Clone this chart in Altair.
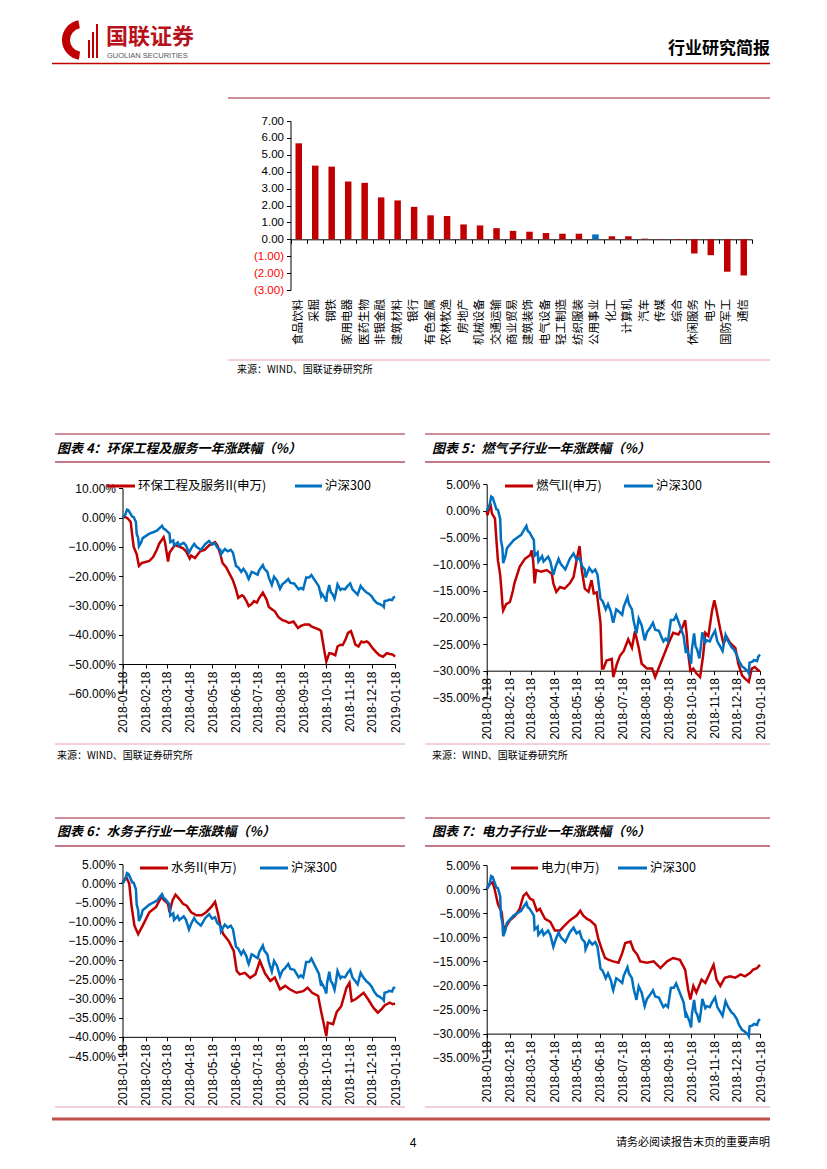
import altair as alt
import pandas as pd

W, H = 811, 1153
M = 8


def px(v):
    return v - M


FONT_CJK = "Noto Sans CJK SC"
FONT_NUM = "Liberation Sans"
RED = "#C00000"
BLUE = "#0070C0"

# ---------------- data ----------------
bar_cats = ["食品饮料", "采掘", "钢铁", "家用电器", "医药生物", "非银金融", "建筑材料", "银行",
            "有色金属", "农林牧渔", "房地产", "机械设备", "交通运输", "商业贸易", "建筑装饰", "电气设备",
            "轻工制造", "纺织服装", "公用事业", "化工", "计算机", "汽车", "传媒", "综合",
            "休闲服务", "电子", "国防军工", "通信"]
bar_vals = [5.68, 4.36, 4.30, 3.42, 3.34, 2.48, 2.30, 1.92, 1.42, 1.38, 0.88, 0.82, 0.66, 0.50,
            0.45, 0.37, 0.33, 0.33, 0.29, 0.18, 0.18, 0.04, 0.02, -0.04, -0.84, -0.94, -1.92, -2.14]
bar_highlight = ["公用事业"]

csi300 = [("2018/01/18", 0.0), ("2018/01/22", 1.2), ("2018/01/24", 2.7), ("2018/01/26", 2.5),
          ("2018/01/29", 1.2), ("2018/01/31", 0.3), ("2018/02/02", 0.2), ("2018/02/05", -1.5),
          ("2018/02/06", -5.5), ("2018/02/08", -7.0), ("2018/02/09", -9.8), ("2018/02/12", -8.5),
          ("2018/02/14", -7.0), ("2018/02/23", -5.5), ("2018/02/28", -5.0), ("2018/03/05", -4.5),
          ("2018/03/09", -3.5), ("2018/03/12", -2.8), ("2018/03/14", -3.8), ("2018/03/16", -4.0),
          ("2018/03/20", -5.0), ("2018/03/22", -5.5), ("2018/03/23", -8.4), ("2018/03/27", -7.8),
          ("2018/03/28", -9.5), ("2018/04/02", -8.5), ("2018/04/04", -9.5), ("2018/04/10", -8.6),
          ("2018/04/13", -9.5), ("2018/04/17", -12.0), ("2018/04/20", -10.5), ("2018/04/24", -9.0),
          ("2018/04/27", -10.0), ("2018/05/03", -11.0), ("2018/05/09", -9.0), ("2018/05/14", -8.0),
          ("2018/05/18", -9.2), ("2018/05/22", -8.8), ("2018/05/25", -10.3), ("2018/05/29", -11.0),
          ("2018/05/30", -12.5), ("2018/06/04", -10.7), ("2018/06/08", -11.5), ("2018/06/12", -11.0),
          ("2018/06/15", -12.0), ("2018/06/19", -16.5), ("2018/06/22", -17.0), ("2018/06/26", -18.5),
          ("2018/06/29", -17.5), ("2018/07/03", -19.0), ("2018/07/05", -20.5), ("2018/07/06", -21.0),
          ("2018/07/10", -18.5), ("2018/07/12", -18.7), ("2018/07/18", -19.5), ("2018/07/20", -18.0),
          ("2018/07/25", -16.2), ("2018/07/27", -17.5), ("2018/07/31", -18.5), ("2018/08/02", -20.5),
          ("2018/08/06", -23.0), ("2018/08/09", -20.2), ("2018/08/13", -21.5), ("2018/08/17", -24.3),
          ("2018/08/20", -22.8), ("2018/08/24", -22.0), ("2018/08/28", -21.0), ("2018/08/31", -22.3),
          ("2018/09/05", -22.5), ("2018/09/07", -23.2), ("2018/09/11", -24.5), ("2018/09/14", -24.0),
          ("2018/09/17", -24.5), ("2018/09/19", -22.5), ("2018/09/21", -20.5), ("2018/09/25", -20.5),
          ("2018/09/28", -19.6), ("2018/10/08", -23.5), ("2018/10/11", -26.7), ("2018/10/12", -26.0),
          ("2018/10/16", -27.5), ("2018/10/18", -28.7), ("2018/10/19", -26.0), ("2018/10/22", -23.0),
          ("2018/10/24", -25.5), ("2018/10/26", -26.0), ("2018/10/29", -27.7), ("2018/10/31", -25.5),
          ("2018/11/02", -22.8), ("2018/11/06", -24.7), ("2018/11/08", -24.3), ("2018/11/12", -24.5),
          ("2018/11/15", -23.5), ("2018/11/19", -22.5), ("2018/11/22", -24.5), ("2018/11/26", -25.5),
          ("2018/11/29", -26.3), ("2018/12/03", -23.3), ("2018/12/05", -24.0), ("2018/12/07", -24.6),
          ("2018/12/11", -25.6), ("2018/12/14", -26.0), ("2018/12/18", -27.0), ("2018/12/21", -28.2),
          ("2018/12/25", -29.2), ("2018/12/28", -29.5), ("2019/01/02", -30.2), ("2019/01/03", -30.5),
          ("2019/01/04", -28.5), ("2019/01/08", -28.3), ("2019/01/10", -28.0), ("2019/01/14", -28.2),
          ("2019/01/16", -27.3), ("2019/01/18", -27.0)]

huanbao = [("2018/01/18", 0.0), ("2018/01/22", 0.2), ("2018/01/25", -0.3), ("2018/01/29", -1.5),
           ("2018/01/31", -6.0), ("2018/02/02", -10.0), ("2018/02/06", -12.5), ("2018/02/09", -16.5),
           ("2018/02/13", -15.5), ("2018/02/23", -14.8), ("2018/02/28", -13.5), ("2018/03/05", -11.0),
           ("2018/03/08", -9.0), ("2018/03/12", -7.5), ("2018/03/14", -6.7), ("2018/03/16", -8.5),
           ("2018/03/20", -15.0), ("2018/03/22", -12.0), ("2018/03/26", -10.5), ("2018/03/29", -9.5),
           ("2018/04/03", -9.8), ("2018/04/09", -10.5), ("2018/04/13", -11.5), ("2018/04/18", -14.0),
           ("2018/04/20", -13.0), ("2018/04/25", -13.8), ("2018/05/02", -11.5), ("2018/05/08", -11.0),
           ("2018/05/14", -9.5), ("2018/05/18", -9.0), ("2018/05/22", -8.4), ("2018/05/25", -9.5),
           ("2018/05/29", -12.5), ("2018/06/01", -15.5), ("2018/06/06", -17.0), ("2018/06/12", -20.0),
           ("2018/06/15", -21.5), ("2018/06/19", -24.5), ("2018/06/22", -27.4), ("2018/06/27", -26.5),
           ("2018/06/29", -26.8), ("2018/07/03", -28.5), ("2018/07/06", -30.2), ("2018/07/10", -29.5),
           ("2018/07/13", -28.5), ("2018/07/17", -29.0), ("2018/07/20", -27.5), ("2018/07/25", -25.6),
           ("2018/07/30", -28.0), ("2018/08/02", -30.5), ("2018/08/07", -31.5), ("2018/08/10", -32.0),
           ("2018/08/15", -34.0), ("2018/08/20", -35.0), ("2018/08/24", -35.3), ("2018/08/29", -36.0),
           ("2018/09/04", -35.5), ("2018/09/10", -37.7), ("2018/09/14", -37.0), ("2018/09/19", -36.5),
           ("2018/09/25", -36.5), ("2018/09/28", -37.2), ("2018/10/09", -38.3), ("2018/10/11", -38.8),
           ("2018/10/15", -45.0), ("2018/10/18", -49.2), ("2018/10/22", -46.3), ("2018/10/26", -46.5),
           ("2018/10/30", -47.0), ("2018/11/02", -44.0), ("2018/11/06", -43.4), ("2018/11/09", -43.5),
           ("2018/11/13", -41.5), ("2018/11/16", -39.4), ("2018/11/20", -38.8), ("2018/11/23", -41.0),
           ("2018/11/26", -43.4), ("2018/11/30", -44.0), ("2018/12/04", -42.3), ("2018/12/07", -42.6),
           ("2018/12/11", -42.3), ("2018/12/14", -42.8), ("2018/12/19", -44.6), ("2018/12/24", -46.0),
           ("2018/12/28", -47.0), ("2019/01/02", -47.5), ("2019/01/07", -46.3), ("2019/01/11", -46.6),
           ("2019/01/15", -46.8), ("2019/01/18", -47.5)]

ranqi = [("2018/01/18", 0.0), ("2018/01/19", -0.8), ("2018/01/23", 1.4), ("2018/01/25", -0.5),
         ("2018/01/29", -1.4), ("2018/01/31", -5.5), ("2018/02/02", -9.3), ("2018/02/05", -12.0),
         ("2018/02/07", -15.5), ("2018/02/08", -17.5), ("2018/02/09", -18.7), ("2018/02/13", -17.5),
         ("2018/02/18", -17.1), ("2018/02/22", -15.0), ("2018/02/24", -13.6), ("2018/03/03", -10.5),
         ("2018/03/10", -9.0), ("2018/03/17", -8.3), ("2018/03/19", -7.4), ("2018/03/21", -9.3),
         ("2018/03/23", -13.6), ("2018/03/25", -11.1), ("2018/04/01", -11.4), ("2018/04/08", -11.1),
         ("2018/04/15", -11.8), ("2018/04/17", -13.6), ("2018/04/21", -15.2), ("2018/04/26", -14.3),
         ("2018/05/02", -14.6), ("2018/05/09", -13.6), ("2018/05/14", -12.4), ("2018/05/18", -9.3),
         ("2018/05/22", -6.6), ("2018/05/25", -11.1), ("2018/05/29", -14.6), ("2018/06/03", -15.2),
         ("2018/06/07", -13.0), ("2018/06/10", -15.5), ("2018/06/14", -15.3), ("2018/06/19", -21.0),
         ("2018/06/21", -29.6), ("2018/06/23", -29.6), ("2018/06/27", -28.1), ("2018/07/04", -27.8),
         ("2018/07/06", -31.2), ("2018/07/11", -28.7), ("2018/07/15", -27.2), ("2018/07/20", -26.3),
         ("2018/07/26", -24.1), ("2018/07/31", -25.7), ("2018/08/04", -22.6), ("2018/08/09", -25.7),
         ("2018/08/13", -28.7), ("2018/08/20", -29.6), ("2018/08/27", -29.6), ("2018/08/31", -31.2),
         ("2018/09/07", -28.7), ("2018/09/13", -26.6), ("2018/09/18", -24.8), ("2018/09/24", -22.9),
         ("2018/10/01", -23.2), ("2018/10/06", -22.0), ("2018/10/10", -20.5), ("2018/10/12", -23.0),
         ("2018/10/14", -26.6), ("2018/10/17", -30.0), ("2018/10/21", -29.6), ("2018/10/25", -30.5),
         ("2018/10/30", -31.2), ("2018/11/03", -27.2), ("2018/11/06", -22.9), ("2018/11/10", -23.5),
         ("2018/11/15", -18.7), ("2018/11/18", -16.8), ("2018/11/21", -18.7), ("2018/11/26", -22.3),
         ("2018/11/30", -24.8), ("2018/12/05", -23.8), ("2018/12/09", -24.8), ("2018/12/16", -25.7),
         ("2018/12/20", -28.7), ("2018/12/25", -30.9), ("2018/12/29", -31.5), ("2019/01/03", -32.1),
         ("2019/01/07", -29.6), ("2019/01/11", -29.3), ("2019/01/16", -30.0), ("2019/01/18", -30.0)]

shuiwu = [("2018/01/18", 0.0), ("2018/01/23", 1.7), ("2018/01/27", 0.0), ("2018/01/30", -5.7),
          ("2018/02/03", -11.0), ("2018/02/08", -13.2), ("2018/02/14", -11.0), ("2018/02/23", -7.5),
          ("2018/03/04", -6.1), ("2018/03/11", -3.5), ("2018/03/15", -4.4), ("2018/03/20", -5.3),
          ("2018/03/22", -7.5), ("2018/03/26", -4.4), ("2018/03/30", -2.9), ("2018/04/04", -4.0),
          ("2018/04/09", -5.3), ("2018/04/14", -5.8), ("2018/04/20", -7.5), ("2018/04/27", -8.3),
          ("2018/05/04", -8.3), ("2018/05/10", -7.5), ("2018/05/17", -6.1), ("2018/05/22", -4.8),
          ("2018/05/26", -7.9), ("2018/05/29", -11.0), ("2018/06/02", -13.2), ("2018/06/09", -14.9),
          ("2018/06/16", -17.6), ("2018/06/20", -22.8), ("2018/06/24", -23.7), ("2018/07/01", -23.3),
          ("2018/07/08", -24.6), ("2018/07/15", -23.7), ("2018/07/21", -20.2), ("2018/07/28", -23.5),
          ("2018/08/04", -25.4), ("2018/08/10", -24.5), ("2018/08/17", -27.6), ("2018/08/24", -26.7),
          ("2018/08/30", -27.6), ("2018/09/08", -28.5), ("2018/09/17", -28.1), ("2018/09/23", -27.2),
          ("2018/09/29", -28.5), ("2018/10/07", -29.3), ("2018/10/11", -33.3), ("2018/10/18", -39.8),
          ("2018/10/20", -36.3), ("2018/10/27", -36.7), ("2018/11/01", -33.5), ("2018/11/07", -32.0),
          ("2018/11/14", -27.2), ("2018/11/18", -25.9), ("2018/11/21", -30.7), ("2018/11/26", -30.2),
          ("2018/12/02", -29.3), ("2018/12/07", -28.5), ("2018/12/13", -30.2), ("2018/12/20", -32.4),
          ("2018/12/26", -33.7), ("2018/12/31", -32.8), ("2019/01/04", -31.8), ("2019/01/11", -31.1),
          ("2019/01/15", -31.5), ("2019/01/18", -31.3)]

dianli = [("2018/01/18", 0.0), ("2018/01/22", 1.0), ("2018/01/26", 1.4), ("2018/01/29", -0.3),
          ("2018/02/02", -3.1), ("2018/02/07", -4.8), ("2018/02/09", -7.5), ("2018/02/11", -8.2),
          ("2018/02/18", -6.5), ("2018/02/25", -5.5), ("2018/03/03", -4.1), ("2018/03/08", -1.4),
          ("2018/03/12", -0.8), ("2018/03/17", -2.0), ("2018/03/21", -2.3), ("2018/03/26", -4.5),
          ("2018/03/30", -4.1), ("2018/04/06", -6.2), ("2018/04/13", -6.8), ("2018/04/19", -8.6),
          ("2018/04/26", -8.6), ("2018/04/30", -7.9), ("2018/05/09", -6.5), ("2018/05/18", -5.5),
          ("2018/05/23", -4.5), ("2018/05/27", -5.5), ("2018/06/01", -6.2), ("2018/06/05", -6.5),
          ("2018/06/12", -7.5), ("2018/06/16", -10.3), ("2018/06/21", -12.6), ("2018/06/25", -14.3),
          ("2018/06/30", -14.7), ("2018/07/06", -15.0), ("2018/07/13", -15.3), ("2018/07/18", -13.3),
          ("2018/07/22", -11.2), ("2018/07/29", -10.9), ("2018/08/02", -12.6), ("2018/08/07", -13.6),
          ("2018/08/11", -15.0), ("2018/08/20", -15.3), ("2018/08/29", -15.0), ("2018/09/07", -16.4),
          ("2018/09/16", -15.0), ("2018/09/24", -14.3), ("2018/10/03", -14.7), ("2018/10/10", -16.7),
          ("2018/10/14", -20.8), ("2018/10/17", -22.9), ("2018/10/21", -20.1), ("2018/10/25", -21.5),
          ("2018/11/01", -18.8), ("2018/11/06", -19.5), ("2018/11/12", -17.4), ("2018/11/17", -15.7),
          ("2018/11/21", -18.8), ("2018/11/26", -20.1), ("2018/12/02", -18.4), ("2018/12/09", -18.1),
          ("2018/12/16", -18.4), ("2018/12/23", -17.7), ("2018/12/29", -18.1), ("2019/01/05", -17.4),
          ("2019/01/09", -16.7), ("2019/01/14", -16.4), ("2019/01/18", -15.7)]

month_ticks = [alt.DateTime(year=2018, month=m, date=18) for m in range(1, 13)] + \
              [alt.DateTime(year=2019, month=1, date=18)]

# ---------------- helpers ----------------
ONE = alt.Data(values=[{}])


def txt(s, x, y, size=11, font=FONT_CJK, color="#000000", align="left",
        weight="normal", style="normal", baseline="middle"):
    return alt.Chart(ONE).mark_text(
        text=s, fontSize=size, font=font, color=color, align=align,
        baseline=baseline, fontWeight=weight, fontStyle=style
    ).encode(x=alt.value(px(x)), y=alt.value(px(y)))


def hline(x0, x1, y, color, w=1.0):
    return alt.Chart(ONE).mark_rule(color=color, strokeWidth=w).encode(
        x=alt.value(px(x0)), x2=alt.value(px(x1)), y=alt.value(px(y)))


def vline(x, y0, y1, color, w=1.0):
    return alt.Chart(ONE).mark_rule(color=color, strokeWidth=w).encode(
        x=alt.value(px(x)), y=alt.value(px(y0)), y2=alt.value(px(y1)))


def to_df(pairs):
    return pd.DataFrame(pairs, columns=["date", "val"])


# ---------------- bar chart ----------------
bar_df = pd.DataFrame({"cat": bar_cats, "val": bar_vals})
B_Y0, B_Y1 = 290.0, 121.0          # pixel of -3 and 7
B_ZERO = B_Y0 - 3.0 / 10.0 * (B_Y0 - B_Y1)
bx_scale = alt.Scale(range=[px(290.5), px(752)], paddingInner=0, paddingOuter=0)
bx_axis = alt.Axis(orient="bottom", offset=px(B_ZERO) - H, labels=False, title=None,
                   domainColor="#000000", tickColor="#000000", tickSize=4, tickBand="extent",
                   grid=False)
by = alt.Y("val:Q", scale=alt.Scale(domain=[-3, 7], range=[px(B_Y0), px(B_Y1)], nice=False, zero=False),
           axis=alt.Axis(orient="left", offset=-px(290.5), values=list(range(-3, 8)),
                         labelExpr="datum.value < 0 ? '(' + format(-datum.value, '.2f') + ')' : format(datum.value, '.2f')",
                         labelColor=alt.condition("datum.value < 0", alt.value("#FF0000"), alt.value("#000000")),
                         labelFont=FONT_NUM, labelFontSize=11.5, labelPadding=3, tickSize=4,
                         tickColor="#000000", domainColor="#000000", grid=False, title=None,
                         labelFlush=False, labelOverlap=False))
bars = alt.Chart(bar_df).mark_bar(size=6.5).encode(
    x=alt.X("cat:N", sort=bar_cats, scale=bx_scale, axis=bx_axis),
    y=by,
    color=alt.condition(alt.FieldOneOfPredicate(field="cat", oneOf=bar_highlight),
                        alt.value(BLUE), alt.value(RED)),
)
bar_labels = alt.Chart(bar_df).mark_text(angle=270, align="right", baseline="middle",
                                         font=FONT_CJK, fontSize=11.5, color="#000000").encode(
    x=alt.X("cat:N", sort=bar_cats, scale=bx_scale, axis=bx_axis),
    y=alt.value(px(299)),
    text="cat:N",
)
bar_group = alt.layer(bars, bar_labels)


# ---------------- line panels ----------------
def panel(ind_pairs, ydom, ystep, x0, x1, ytop, ybot, cross):
    ycross = ybot - (cross - ydom[0]) / (ydom[1] - ydom[0]) * (ybot - ytop)
    xs = alt.Scale(domain=[alt.DateTime(year=2018, month=1, date=18),
                           alt.DateTime(year=2019, month=1, date=18)],
                   range=[px(x0), px(x1)])
    ys = alt.Scale(domain=ydom, range=[px(ybot), px(ytop)], nice=False, zero=False)
    xax = alt.Axis(orient="bottom", offset=px(ycross) - H, values=month_ticks, format="%Y-%m-%d",
                   labelAngle=270, labelAlign="right", labelBaseline="middle", labelFlush=False,
                   labelOverlap=False, labelFont=FONT_NUM, labelFontSize=12, labelColor="#000000",
                   labelPadding=3, tickSize=4, tickColor="#000000", domainColor="#000000",
                   grid=False, title=None)
    yvals = list(range(ydom[0], ydom[1] + 1, ystep))
    yax = alt.Axis(orient="left", offset=-px(x0), values=yvals,
                   labelExpr="format(datum.value, '.2f') + '%'", labelFlush=False,
                   labelOverlap=False, labelFont=FONT_NUM, labelFontSize=12, labelColor="#000000",
                   labelPadding=3, tickSize=4, tickColor="#000000", domainColor="#000000",
                   grid=False, title=None)
    enc = dict(x=alt.X("date:T", scale=xs, axis=xax), y=alt.Y("val:Q", scale=ys, axis=yax))
    ind = alt.Chart(to_df(ind_pairs)).mark_line(color=RED, strokeWidth=2.5).encode(**enc)
    csi = alt.Chart(to_df(csi300)).mark_line(color=BLUE, strokeWidth=2.5).encode(**enc)
    return alt.layer(ind, csi)


p4 = panel(huanbao, [-60, 10], 10, 122.5, 395, 488.3, 693.3, -50)
p5 = panel(ranqi, [-35, 5], 5, 486.7, 760, 484.3, 697.3, -30)
p6 = panel(shuiwu, [-45, 5], 5, 122.5, 395, 864.3, 1056, -40)
p7 = panel(dianli, [-35, 5], 5, 486.7, 760, 865, 1057.7, -30)

# ---------------- decorations ----------------
TITLE_TOP = "#9E1B32"
TITLE_BOT = "#C47A8A"
SRC_LINE = "#E8A0B0"
LEG = 12.5

deco = [
    # header
    alt.Chart(ONE).mark_arc(color=RED, innerRadius=12, outerRadius=20, theta=3.3, theta2=6.1).encode(
        x=alt.value(px(82)), y=alt.value(px(40))),
    vline(89, 40, 58, RED, 2), vline(93, 32, 58, RED, 2), vline(97, 24, 58, RED, 2),
    txt("国联证券", 106, 36.5, size=22, color="#B5121B", weight="bold"),
    txt("GUOLIAN SECURITIES", 107, 55.5, size=7.5, font=FONT_NUM, color="#555555"),
    txt("行业研究简报", 770, 49, size=17, align="right", weight="bold"),
    hline(52, 770, 63.5, RED, 1.5),
    # bar chart frame
    hline(228, 770, 98, TITLE_TOP, 1),
    hline(228, 770, 360, SRC_LINE, 1),
    txt("来源：WIND、国联证券研究所", 237, 370, size=10),
    # chart 4 / 5 title bars
    hline(55, 405, 434, TITLE_TOP, 1), hline(425, 770, 434, TITLE_TOP, 1),
    hline(55, 405, 462, TITLE_BOT, 2), hline(425, 770, 462, TITLE_BOT, 2),
    txt("图表 4：环保工程及服务一年涨跌幅（%）", 57, 449, size=13, weight="bold", style="italic"),
    txt("图表 5：燃气子行业一年涨跌幅（%）", 432, 449, size=13, weight="bold", style="italic"),
    hline(55, 405, 744, SRC_LINE, 1), hline(425, 770, 744, SRC_LINE, 1),
    txt("来源：WIND、国联证券研究所", 57, 756, size=10),
    txt("来源：WIND、国联证券研究所", 432, 756, size=10),
    # chart 6 / 7 title bars
    hline(55, 405, 818, TITLE_TOP, 1), hline(425, 770, 818, TITLE_TOP, 1),
    hline(55, 405, 846, TITLE_BOT, 2), hline(425, 770, 846, TITLE_BOT, 2),
    txt("图表 6：水务子行业一年涨跌幅（%）", 57, 832, size=13, weight="bold", style="italic"),
    txt("图表 7：电力子行业一年涨跌幅（%）", 432, 832, size=13, weight="bold", style="italic"),
    hline(55, 405, 1107, SRC_LINE, 1), hline(425, 770, 1107, SRC_LINE, 1),
    # legends
    hline(107, 135, 486, RED, 3), txt("环保工程及服务II(申万)", 138, 486, size=LEG),
    hline(295, 322, 486, BLUE, 3), txt("沪深300", 325, 486, size=LEG),
    hline(505, 533, 486, RED, 3), txt("燃气II(申万)", 536, 486, size=LEG),
    hline(624, 653, 486, BLUE, 3), txt("沪深300", 656, 486, size=LEG),
    hline(140, 168, 868, RED, 3), txt("水务II(申万)", 171, 868, size=LEG),
    hline(260, 288, 868, BLUE, 3), txt("沪深300", 291, 868, size=LEG),
    hline(511, 538, 868, RED, 3), txt("电力(申万)", 541, 868, size=LEG),
    hline(618, 647, 868, BLUE, 3), txt("沪深300", 650, 868, size=LEG),
    # footer
    hline(52, 770, 1119, "#C0504D", 3),
    txt("4", 413, 1143, size=12, font=FONT_NUM, align="center"),
    txt("请务必阅读报告末页的重要声明", 770, 1143, size=11, align="right"),
]

chart = alt.layer(bar_group, p4, p5, p6, p7, *deco).resolve_scale(
    x="independent", y="independent"
).properties(
    width=W, height=H, padding=0, autosize=alt.AutoSizeParams(type="none"),
    background="white"
).configure_view(strokeWidth=0)

chart.save("out.html", embed_options={"renderer": "svg", "actions": False})
